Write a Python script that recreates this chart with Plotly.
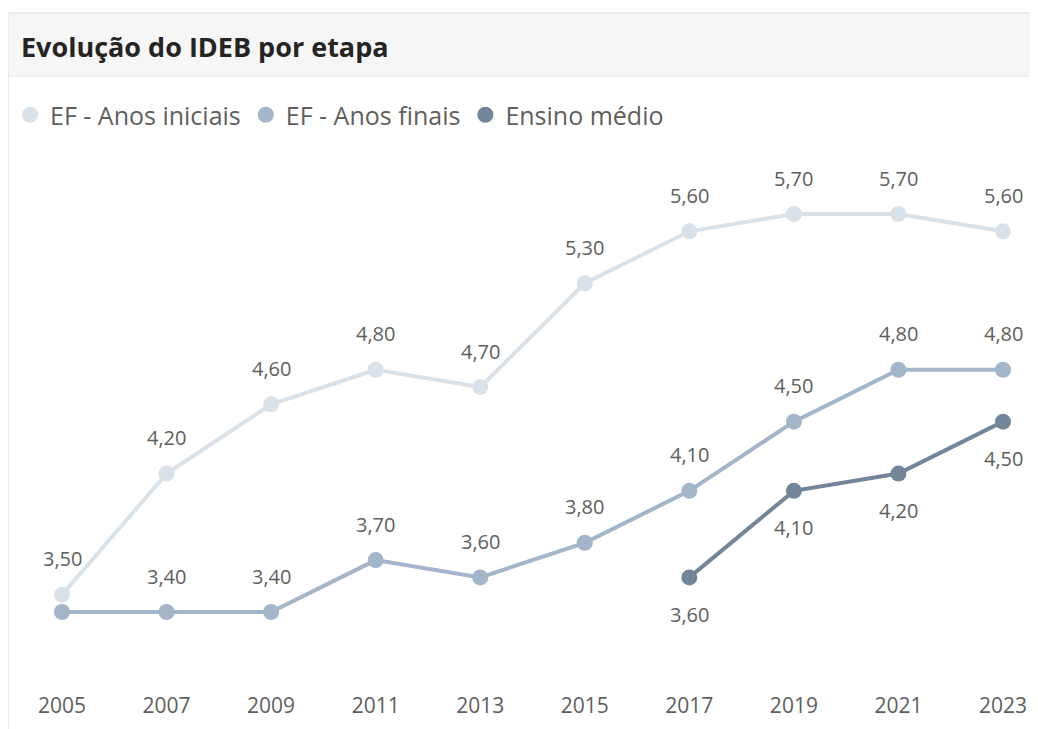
import plotly.graph_objects as go

years = [2005, 2007, 2009, 2011, 2013, 2015, 2017, 2019, 2021, 2023]
anos_iniciais = [3.5, 4.2, 4.6, 4.8, 4.7, 5.3, 5.6, 5.7, 5.7, 5.6]
anos_finais = [3.4, 3.4, 3.4, 3.7, 3.6, 3.8, 4.1, 4.5, 4.8, 4.8]
em_years = [2017, 2019, 2021, 2023]
ensino_medio = [3.6, 4.1, 4.2, 4.5]
series_names = ["EF - Anos iniciais", "EF - Anos finais", "Ensino médio"]
colors = ["#d9e1e9", "#a2b5c9", "#738598"]
title_text = "Evolução do IDEB por etapa"

FONT = "Segoe UI, Open Sans, sans-serif"
W, H = 1038, 729
OFF = 8            # page body margin offset
PT, PB = 150 - OFF, 680 - OFF  # plot area top/bottom in figure pixels


def px_x(p):
    """page pixel -> paper x"""
    return (p - OFF) / W


def px_y(p):
    """page pixel -> paper y"""
    return (PB - (p - OFF)) / (PB - PT)


def fmt(v):
    return f"{v:.2f}".replace(".", ",")


fig = go.Figure()

series = [
    (years, anos_iniciais, series_names[0], colors[0], 36),
    (years, anos_finais, series_names[1], colors[1], 36),
    (em_years, ensino_medio, series_names[2], colors[2], -37),
]

for xs, ys, name, col, shift in series:
    fig.add_trace(go.Scatter(
        x=xs, y=ys, mode="lines+markers", name=name,
        line=dict(color=col, width=4),
        marker=dict(color=col, size=16),
        showlegend=False, hoverinfo="x+y",
    ))

# legend entries (circle only)
for xs, ys, name, col, shift in series:
    fig.add_trace(go.Scatter(
        x=[None], y=[None], mode="markers", name=name,
        marker=dict(color=col, size=16, symbol="circle"),
        showlegend=True,
    ))

annotations = []
for xs, ys, name, col, shift in series:
    for i, (x, y) in enumerate(zip(xs, ys)):
        # Power BI hides the overlapping 2005 label of "Anos finais"
        if name == series_names[1] and i == 0:
            continue
        annotations.append(dict(
            x=x, y=y, xref="x", yref="y", text=fmt(y), showarrow=False,
            yshift=shift, font=dict(family=FONT, size=20, color="#605e5c"),
        ))

annotations.append(dict(
    x=px_x(19), y=px_y(47), xref="paper", yref="paper", xanchor="left",
    yanchor="middle", text=title_text, showarrow=False,
    font=dict(family=FONT, size=27, color="#252423", weight="bold"),
))

shapes = [
    # card background + border
    dict(type="rect", xref="paper", yref="paper", x0=px_x(8), x1=px_x(1080),
         y0=px_y(800), y1=px_y(13), line=dict(color="#e3e3e3", width=1.5),
         fillcolor="white", layer="below"),
    # title bar
    dict(type="rect", xref="paper", yref="paper", x0=px_x(9), x1=px_x(1080),
         y0=px_y(76), y1=px_y(14), line=dict(width=0),
         fillcolor="#f6f6f6", layer="below"),
    dict(type="line", xref="paper", yref="paper", x0=px_x(9), x1=px_x(1080),
         y0=px_y(76), y1=px_y(76), line=dict(color="#ececec", width=1.5),
         layer="below"),
]

# x axis: 2005 at page x=62, 2023 at page x=1003
ppy = (1003 - 62) / (2023 - 2005)
x0 = 2005 - (62 - OFF) / ppy
x1 = x0 + W / ppy

fig.update_layout(
    width=W, height=H,
    margin=dict(l=0, r=0, t=PT, b=H - PB, autoexpand=False),
    paper_bgcolor="white", plot_bgcolor="rgba(0,0,0,0)",
    font=dict(family=FONT, color="#605e5c"),
    xaxis=dict(
        range=[x0, x1], tickmode="array", tickvals=years,
        ticktext=[str(y) for y in years], showgrid=False, zeroline=False,
        showline=False, ticks="", tickfont=dict(family=FONT, size=21, color="#605e5c"),
        ticklabelstandoff=11, fixedrange=True,
    ),
    yaxis=dict(range=[3.007, 6.07], visible=False, fixedrange=True),
    legend=dict(
        orientation="h", x=px_x(10), y=px_y(115), xanchor="left", yanchor="middle",
        font=dict(family=FONT, size=25, color="#605e5c"), itemclick=False,
        bgcolor="rgba(0,0,0,0)",
    ),
    annotations=annotations,
    shapes=shapes,
    showlegend=True,
)

fig.write_html("out.html")
